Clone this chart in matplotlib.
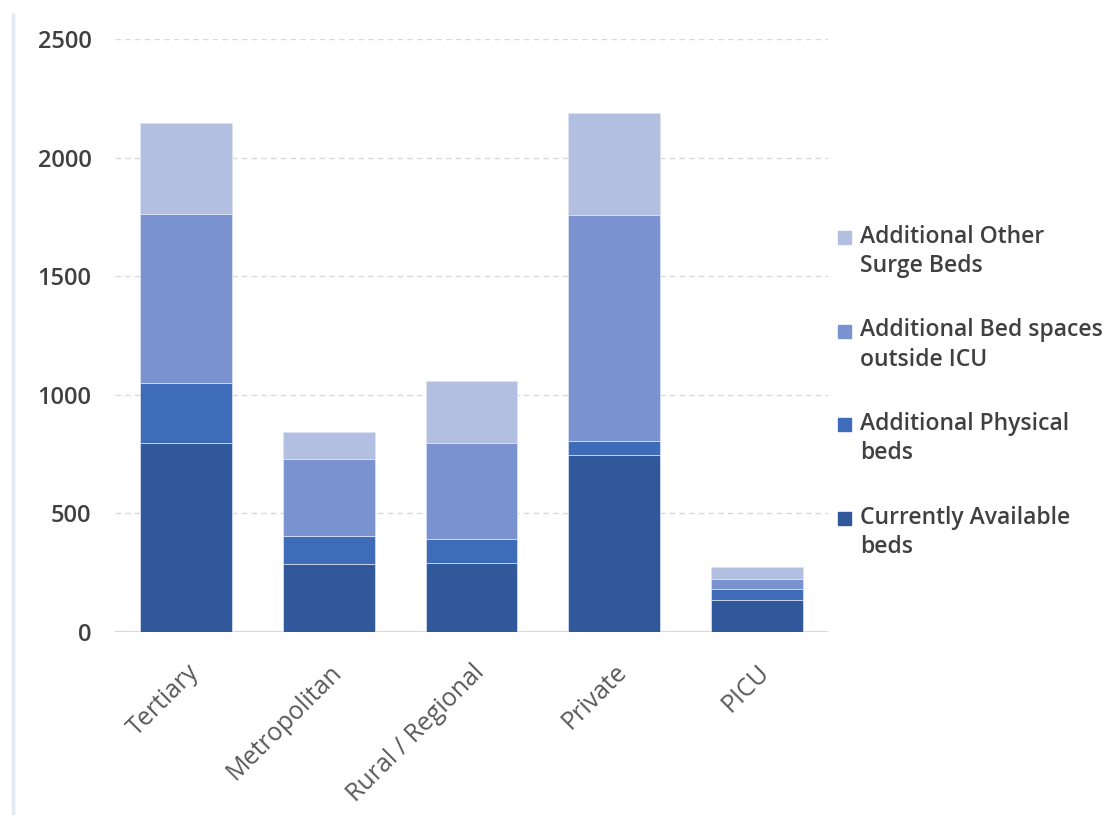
import numpy as np
import matplotlib.pyplot as plt
from matplotlib.lines import Line2D
from matplotlib.patches import Rectangle

categories = ['Tertiary', 'Metropolitan', 'Rural / Regional', 'Private', 'PICU']
current = [795, 287, 292, 745, 137]
physical = [255, 117, 102, 62, 44]
outside_icu = [711, 324, 401, 951, 43]
surge = [384, 117, 265, 432, 48]

series = [
    ('Currently Available\nbeds', current, '#31589a'),
    ('Additional Physical\nbeds', physical, '#3f6cb8'),
    ('Additional Bed spaces\noutside ICU', outside_icu, '#7a93d0'),
    ('Additional Other\nSurge Beds', surge, '#b3bfe0'),
]

plt.rcParams['font.family'] = ['Open Sans', 'DejaVu Sans']

W, H = 1112, 815
fig = plt.figure(figsize=(W / 100, H / 100), dpi=100)
ax = fig.add_axes([115 / W, 1 - 632 / H, (828 - 115) / W, (632 - 39) / H])

x = np.arange(len(categories))
bottom = np.zeros(len(categories))
for label, vals, color in series:
    ax.bar(x, vals, width=0.645, bottom=bottom, color=color, label=label,
           edgecolor='#dfe5f3', linewidth=0.5, zorder=3)
    bottom += np.array(vals)

ax.set_xlim(-0.5, 4.5)
ax.set_ylim(0, 2500)
ax.set_yticks(np.arange(0, 2501, 500))
ax.yaxis.grid(True, linestyle=(0, (4, 3)), color='#d9d9d9', linewidth=1, zorder=0)
ax.axhline(0, color='#d9d9d9', linewidth=1.5, zorder=2)
for s in ax.spines.values():
    s.set_visible(False)
ax.tick_params(axis='both', length=0)
ax.tick_params(axis='y', labelsize=17, labelcolor='#404040', pad=17)
for t in ax.get_yticklabels():
    t.set_fontweight('semibold')
ax.set_xticks(x)
ax.set_xticklabels(categories, rotation=45, ha='right', rotation_mode='anchor',
                   fontsize=18, color='#595959')
ax.tick_params(axis='x', pad=20)

# legend drawn by hand so the square lines up with the first text line
for i, (label, vals, color) in enumerate(series[::-1]):
    ytop = 238 + i * 93.5
    fig.patches.append(Rectangle((838 / W, 1 - (ytop + 6) / H), 13 / W, 13 / H,
                                 transform=fig.transFigure, color=color, figure=fig))
    fig.text(860 / W, 1 - (ytop - 13) / H, label, fontsize=16.5, fontweight='semibold',
             color='#404040', va='top', ha='left', linespacing=1.3)

# thin border line on the left edge
fig.add_artist(Line2D([13 / W, 13 / W], [0, 1 - 15 / H],
                      transform=fig.transFigure, color='#e3e9f2', linewidth=2.5))

fig.savefig('out.png', dpi=100)
